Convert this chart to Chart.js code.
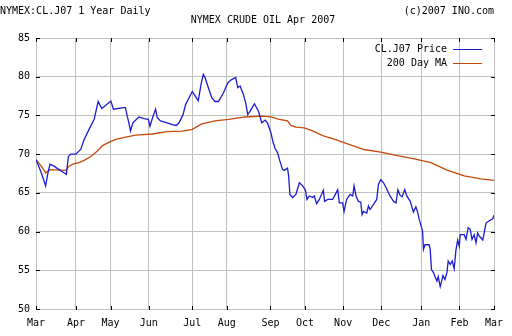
<!DOCTYPE html>
<html>
<head>
<meta charset="utf-8">
<script src="https://cdn.jsdelivr.net/npm/chart.js@4.4.1/dist/chart.umd.min.js"></script>
<style>
    html, body { margin: 0; padding: 0; background: #fff; }
    canvas { display: block; }
</style>
</head>
<body>
<canvas id="crudeChart" width="512" height="336"></canvas>
<script>
// x axis is in trading days from the start of March 2006
const monthTicks = [0, 22, 41, 62, 86, 105, 129, 148, 169, 190, 212, 233, 252];
const monthLabels = ['Mar', 'Apr', 'May', 'Jun', 'Jul', 'Aug', 'Sep', 'Oct', 'Nov', 'Dec', 'Jan', 'Feb', 'Mar'];

const priceDays = [
    0, 2.9, 5.3, 6.6, 7.7, 9.9, 12.7, 15.4, 16.7, 17.8, 19.1, 21.9, 24.6, 26.5, 29.2, 32.0, 34.2, 36.2, 38.4, 41.2,
    42.6, 48.4, 49.2, 50.2, 51.1, 52.0, 53.3, 56.6, 59.4, 61.8, 62.7, 64.4, 65.8, 66.7, 68.5, 72.2, 75.0, 77.2, 78.7, 80.9,
    82.3, 83.8, 86.0, 87.1, 89.3, 90.8, 92.1, 93.0, 94.8, 96.7, 98.5, 100.4, 103.1, 105.5, 107.4, 109.9, 111.0, 112.3, 114.1, 115.4,
    116.5, 117.8, 120.2, 122.4, 124.2, 126.1, 127.4, 129.2, 130.5, 131.6, 132.9, 134.2, 135.7, 136.6, 138.4, 139.0, 139.7, 141.2, 143.0, 144.9,
    146.7, 148.2, 149.1, 150.4, 152.2, 153.1, 154.4, 155.9, 158.1, 158.8, 160.5, 163.2, 164.7, 166.0, 166.9, 168.7, 169.5, 170.9, 172.8, 174.3,
    175.0, 176.1, 177.4, 178.7, 179.4, 180.2, 182.0, 182.9, 183.8, 185.7, 187.5, 188.4, 189.7, 191.2, 193.0, 194.8, 196.7, 198.1, 199.1, 200.3,
    201.4, 202.9, 204.0, 205.9, 207.7, 209.0, 209.9, 210.8, 211.7, 212.7, 213.2, 214.0, 216.3, 216.9, 217.6, 218.7, 219.5, 220.6, 221.3, 222.4,
    223.2, 223.9, 225.0, 226.1, 226.8, 227.9, 229.0, 230.1, 231.0, 232.0, 232.9, 233.4, 235.6, 236.6, 237.8, 238.9, 239.9, 241.1, 242.1, 243.0,
    243.9, 244.8, 245.8, 246.6, 247.6, 249.4, 251.3, 252
];
const priceValues = [
    69.3, 67.6, 65.9, 67.6, 68.7, 68.45, 68.0, 67.6, 67.4, 69.7, 70.0, 70.0, 70.6, 71.9, 73.2, 74.5, 76.8, 75.9, 76.3, 76.85,
    75.8, 76.0, 76.0, 74.9, 74.05, 73.0, 74.05, 74.8, 74.6, 74.5, 73.6, 74.9, 75.8, 74.7, 74.3, 74.05, 73.8, 73.7, 74.05, 75.1,
    76.4, 77.1, 78.1, 77.7, 76.9, 79.0, 80.3, 79.9, 78.6, 77.3, 76.8, 76.8, 77.9, 79.2, 79.6, 79.9, 78.6, 78.8, 77.7, 76.6,
    75.1, 75.55, 76.5, 75.55, 74.05, 74.4, 74.0, 72.8, 71.5, 70.7, 70.2, 69.1, 68.0, 67.9, 68.2, 67.2, 64.8, 64.4, 64.8, 66.3,
    65.9, 65.4, 64.15, 64.6, 64.4, 64.6, 63.6, 64.15, 65.35, 63.9, 64.15, 64.15, 64.8, 65.4, 63.7, 63.7, 62.6, 64.15, 64.8, 64.6,
    65.9, 64.6, 63.9, 63.8, 62.2, 62.6, 62.4, 63.3, 62.85, 63.5, 64.15, 66.1, 66.7, 66.3, 65.5, 64.6, 63.9, 63.7, 65.4, 64.7,
    64.5, 65.4, 64.6, 63.9, 62.5, 63.2, 62.6, 61.6, 60.9, 60.05, 57.7, 58.3, 58.3, 57.7, 55.1, 54.7, 54.2, 53.6, 54.2, 52.9,
    53.6, 54.3, 53.8, 54.7, 56.2, 55.75, 56.2, 55.2, 57.5, 58.9, 58.1, 59.6, 59.6, 59.0, 60.5, 60.3, 59.0, 59.6, 58.55, 59.8,
    59.4, 59.2, 58.9, 59.8, 61.1, 61.4, 61.65, 62.1
];

const maDays = [
    0, 2.9, 5.3, 7.7, 16.4, 18.2, 20.6, 23.7, 26.5, 30.2, 33.8, 36.6, 40.3, 43.9, 47.4, 54.8, 64.0, 72.2, 80.5, 86.0,
    91.2, 98.5, 105.9, 115.1, 124.6, 129.2, 133.8, 138.4, 140.2, 143.0, 147.6, 152.2, 157.7, 163.2, 168.7, 180.5, 189.7, 198.9, 208.1, 217.3,
    226.5, 235.6, 244.8, 252
];
const maValues = [
    69.3, 68.45, 67.6, 68.0, 67.9, 68.45, 68.75, 68.9, 69.2, 69.7, 70.4, 71.1, 71.55, 71.9, 72.1, 72.45, 72.6, 72.9, 72.97, 73.2,
    73.9, 74.3, 74.5, 74.8, 74.9, 74.8, 74.5, 74.3, 73.7, 73.5, 73.4, 73.0, 72.4, 72.0, 71.55, 70.6, 70.25, 69.8, 69.4, 68.9,
    67.9, 67.2, 66.8, 66.6
];

const FONT = "'DejaVu Sans Mono', monospace";

// header texts above the plot
const headerPlugin = {
    id: 'header',
    afterDraw(chart) {
        const ctx = chart.ctx;
        const area = chart.chartArea;
        ctx.save();
        ctx.font = '10px ' + FONT;
        ctx.fillStyle = '#000';
        ctx.textBaseline = 'middle';
        ctx.textAlign = 'left';
        ctx.fillText('NYMEX:CL.J07 1 Year Daily', 0, 11);
        ctx.textAlign = 'right';
        ctx.fillText('(c)2007 INO.com', area.right, 11);
        ctx.textAlign = 'center';
        ctx.fillText('NYMEX CRUDE OIL Apr 2007', (area.left + area.right) / 2 - 2, 20);
        ctx.restore();
    }
};

// legend in the top right corner of the plot, line sample after the text
const legendPlugin = {
    id: 'cornerLegend',
    afterDraw(chart) {
        const ctx = chart.ctx;
        const area = chart.chartArea;
        ctx.save();
        ctx.font = '10px ' + FONT;
        ctx.textBaseline = 'middle';
        ctx.textAlign = 'right';
        chart.data.datasets.forEach((ds, i) => {
            const y = Math.round(area.top + 11 + i * 14);
            ctx.fillStyle = '#000';
            ctx.fillText(ds.label, area.right - 47, y);
            ctx.fillStyle = ds.borderColor;
            ctx.fillRect(area.right - 41, y, 29, 1);
        });
        ctx.restore();
    }
};

// short black tick marks pointing inward on all four sides
const frameTicksPlugin = {
    id: 'frameTicks',
    beforeDatasetsDraw(chart) {
        const ctx = chart.ctx;
        const area = chart.chartArea;
        const xs = chart.scales.x;
        const ys = chart.scales.y;
        const len = 4;
        ctx.save();
        ctx.strokeStyle = '#000';
        ctx.lineWidth = 1;
        ctx.beginPath();
        xs.ticks.forEach(t => {
            const px = Math.round(xs.getPixelForValue(t.value)) + 0.5;
            ctx.moveTo(px, area.top);
            ctx.lineTo(px, area.top + len);
            ctx.moveTo(px, area.bottom + 1);
            ctx.lineTo(px, area.bottom + 1 - len);
        });
        ys.ticks.forEach(t => {
            const py = Math.round(ys.getPixelForValue(t.value)) + 0.5;
            ctx.moveTo(area.left, py);
            ctx.lineTo(area.left + len, py);
            ctx.moveTo(area.right + 1, py);
            ctx.lineTo(area.right + 1 - len, py);
        });
        ctx.stroke();
        ctx.restore();
    }
};

Chart.defaults.font.family = FONT;
Chart.defaults.font.size = 10;
Chart.defaults.color = '#000';

new Chart(document.getElementById('crudeChart'), {
    type: 'line',
    data: {
        datasets: [
            {
                label: 'CL.J07 Price',
                data: priceDays.map((d, i) => ({ x: d, y: priceValues[i] })),
                borderColor: '#1c1cd0',
                borderWidth: 1.3,
                pointRadius: 0,
                tension: 0
            },
            {
                label: '200 Day MA',
                data: maDays.map((d, i) => ({ x: d, y: maValues[i] })),
                borderColor: '#c44a0a',
                borderWidth: 1.3,
                pointRadius: 0,
                tension: 0
            }
        ]
    },
    options: {
        responsive: false,
        animation: false,
        devicePixelRatio: 1,
        layout: { padding: { top: 38, right: 18, left: 0, bottom: 0 } },
        plugins: {
            legend: { display: false },
            tooltip: { enabled: false }
        },
        scales: {
            x: {
                type: 'linear',
                min: 0,
                max: 252,
                afterBuildTicks: scale => {
                    scale.ticks = monthTicks.map(v => ({ value: v }));
                },
                afterFit: scale => { scale.height = 27; },
                ticks: {
                    autoSkip: false,
                    maxRotation: 0,
                    padding: 8,
                    callback: (value) => monthLabels[monthTicks.indexOf(value)]
                },
                grid: { color: '#c0c0c0', drawTicks: false },
                border: { display: false }
            },
            y: {
                min: 50,
                max: 85,
                afterFit: scale => { scale.width = 36; },
                ticks: { stepSize: 5, padding: 6 },
                grid: { color: '#c0c0c0', drawTicks: false },
                border: { display: false }
            }
        }
    },
    plugins: [headerPlugin, legendPlugin, frameTicksPlugin]
});
</script>
</body>
</html>
